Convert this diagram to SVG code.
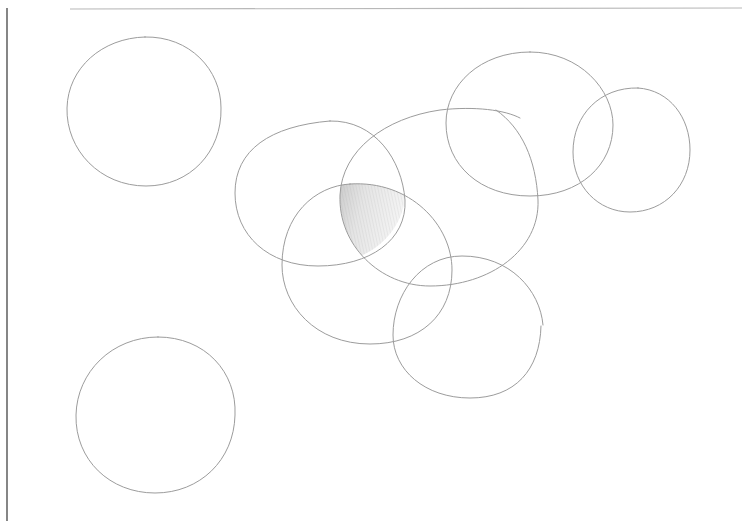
<svg xmlns="http://www.w3.org/2000/svg" width="742" height="526" viewBox="0 0 742 526">
<style>
.c{fill:none;stroke:#9c9c9c;stroke-width:1;stroke-linecap:round}
.b{stroke:#444;stroke-width:1.3}
.t{stroke:#b8b8b8;stroke-width:1.2}
</style>
<defs>
<clipPath id="k3"><ellipse cx="320" cy="193" rx="85" ry="72"/></clipPath>
<clipPath id="k4"><path d="M 490 107 C 470 106, 440 110, 440 110 C 385 118, 342 150, 340 195 C 338 245, 380 286, 430 286 C 490 286, 540 250, 538 200 C 536 160, 520 125, 490 107 Z"/></clipPath>
<clipPath id="k5"><path d="M 350 184 C 410 180, 452 225, 452 270 C 452 315, 420 344, 370 344 C 315 344, 282 305, 282 265 C 282 215, 315 186, 350 184 Z"/></clipPath>
<linearGradient id="g" x1="0" y1="0" x2="1" y2="0.3">
<stop offset="0" stop-color="#9a9a9a" stop-opacity="0.65"/>
<stop offset="0.4" stop-color="#c4c4c4" stop-opacity="0.45"/>
<stop offset="1" stop-color="#e6e6e6" stop-opacity="0.3"/>
</linearGradient>
<pattern id="h" width="3" height="6" patternUnits="userSpaceOnUse" patternTransform="rotate(-12)">
<line x1="0" y1="0" x2="0" y2="6" stroke="#8a8a8a" stroke-width="0.6" stroke-opacity="0.6"/>
</pattern>
</defs>
<rect width="742" height="526" fill="#fff"/>
<line class="b" x1="7" y1="8" x2="7" y2="521"/>
<line class="t" x1="70" y1="9" x2="742" y2="8"/>
<g id="shade" clip-path="url(#k3)">
<g clip-path="url(#k4)">
<g clip-path="url(#k5)">
<rect x="330" y="175" width="90" height="100" fill="url(#g)"/>
<rect x="330" y="175" width="90" height="100" fill="url(#h)" opacity="0.6"/>
</g>
</g>
</g>
<g id="c1"><path class="c" d="M 145 37 C 190 36, 221 70, 221 108 C 222 152, 190 186, 146 186 C 100 186, 66 150, 67 108 C 68 68, 102 38, 145 37 Z"/></g>
<g id="c2"><path class="c" d="M 158 337 C 205 337, 237 372, 235 415 C 234 460, 200 493, 155 493 C 110 493, 75 460, 76 415 C 77 372, 112 337, 158 337 Z"/></g>
<g id="c3"><path class="c" d="M 330 121 C 375 120, 402 160, 405 200 C 407 240, 370 266, 318 266 C 268 266, 235 235, 235 193 C 235 150, 270 126, 330 121 Z"/></g>
<g id="c4"><path class="c" d="M 520 118 C 505 110, 475 106, 440 110 C 385 118, 342 150, 340 195 C 338 245, 380 286, 430 286 C 490 286, 540 250, 538 200 C 536 160, 522 128, 496 110"/></g>
<g id="c5"><path class="c" d="M 350 184 C 410 180, 452 225, 452 270 C 452 315, 420 344, 370 344 C 315 344, 282 305, 282 265 C 282 215, 315 186, 350 184 Z"/></g>
<g id="c6"><path class="c" d="M 543 325 C 540 290, 510 256, 462 256 C 420 256, 393 295, 393 335 C 393 370, 425 398, 470 398 C 515 398, 540 370, 541 326"/></g>
<g id="c7"><path class="c" d="M 530 52 C 580 52, 613 90, 613 125 C 613 165, 580 196, 530 196 C 480 196, 446 165, 446 123 C 446 85, 480 52, 530 52 Z"/></g>
<g id="c8"><path class="c" d="M 638 88 C 670 90, 690 118, 690 150 C 690 185, 665 212, 630 212 C 598 212, 573 186, 573 152 C 573 115, 600 87, 638 88 Z"/></g>
</svg>
